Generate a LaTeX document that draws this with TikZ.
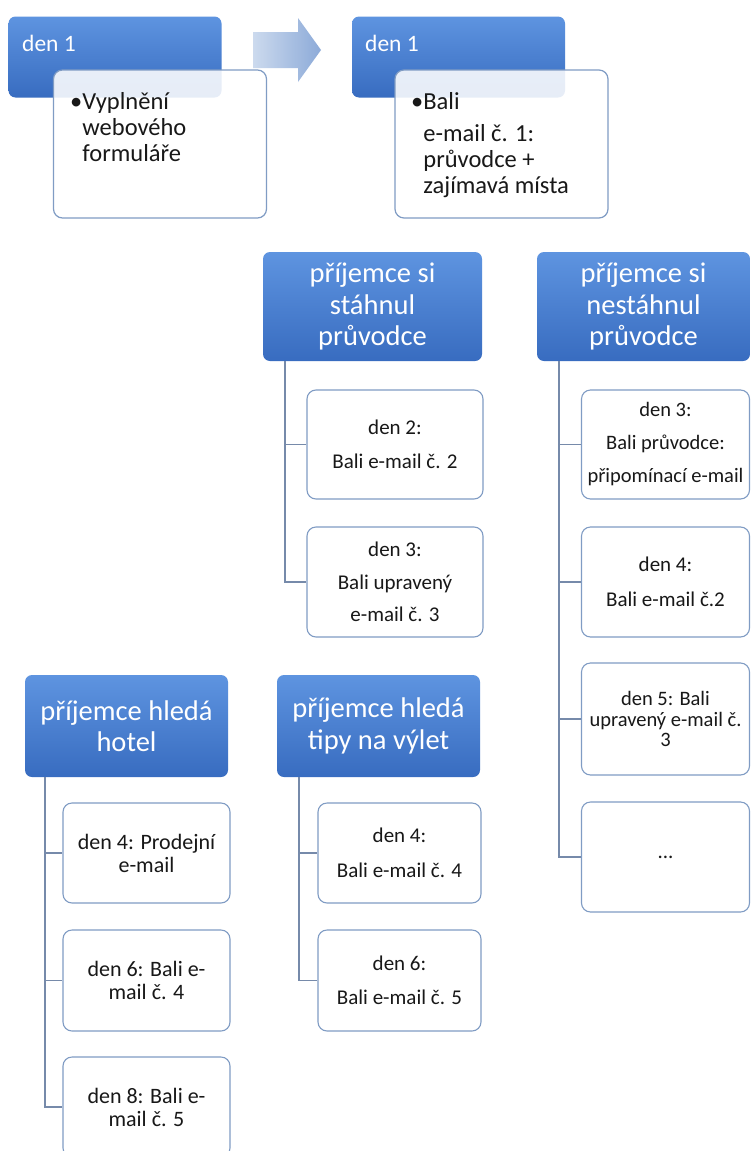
\documentclass[tikz,border=0pt]{standalone}
\usepackage{fontspec}
\setmainfont{Carlito}
\definecolor{hdrtop}{RGB}{94,148,224}
\definecolor{hdrbot}{RGB}{56,108,192}
\definecolor{boxline}{RGB}{128,156,196}
\definecolor{conn}{RGB}{118,138,170}
\definecolor{txt}{RGB}{24,24,24}
\definecolor{arrL}{RGB}{204,218,238}
\definecolor{arrR}{RGB}{140,170,216}
\begin{document}
\begin{tikzpicture}[x=1pt,y=-1pt,
  hdr/.style={rounded corners=7pt, top color=hdrtop, bottom color=hdrbot, draw=none,
    text=white, inner sep=0pt, align=center, font=\fontsize{28.5}{31.5}\selectfont},
  daybox/.style={rounded corners=7pt, top color=hdrtop, bottom color=hdrbot, draw=none,
    inner sep=0pt, minimum width=213pt, minimum height=81pt},
  daylbl/.style={text=white, inner sep=0pt, anchor=base west, font=\fontsize{23.5}{26}\selectfont},
  topbox/.style={rounded corners=9pt, draw=boxline, line width=1.2pt, fill=white, fill opacity=0.88,
    inner sep=0pt, minimum width=213pt, minimum height=148pt},
  toptxt/.style={text=txt, inner sep=0pt, anchor=base west, font=\fontsize{24.5}{26}\selectfont},
  kid/.style={rounded corners=9pt, draw=boxline, line width=1.1pt, fill=white, text=txt,
    inner sep=0pt, align=center},
  sp/.style={font=\fontsize{21}{34.5}\selectfont},
  tt/.style={font=\fontsize{22}{23}\selectfont},
  tt2/.style={font=\fontsize{20.5}{20.5}\selectfont},
  connline/.style={draw=conn, line width=1.6pt}
]
\useasboundingbox (0,0) rectangle (750,1151);
\clip (0,0) rectangle (750,1151);
\fill[white] (0,0) rectangle (750,1151);

% ---- top row ----
\node[daybox] (d1a) at (115,57) {};
\node[daylbl] (d1alab) at (22,51) {den 1};
\node[topbox] (w1) at (160,144) {};
\node[toptxt] (w1txt) at (70,109) {\begin{tabular}[t]{@{}l@{}l@{}}\textbullet&Vyplnění\\ &webového\\ &formuláře\end{tabular}};

\path[left color=arrL, right color=arrR] (253,32) -- (298,32) -- (298,18) -- (321,50) -- (298,82) -- (298,68) -- (253,68) -- cycle;

\node[daybox] (d1b) at (458.5,57) {};
\node[daylbl] (d1blab) at (365,51) {den 1};
\node[topbox] (w2) at (501.5,144) {};
\node[toptxt] (w2txt) at (411,109) {\begin{tabular}[t]{@{}l@{}l@{}}\textbullet&Bali\\[6pt] &e-mail č. 1:\\ &průvodce +\\ &zajímavá místa\end{tabular}};

% ---- group: stáhnul ----
\node[hdr, minimum width=219pt, minimum height=109pt] (h1) at (372.5,306.5) {příjemce si\\stáhnul\\průvodce};
\node[kid, sp, minimum width=176pt, minimum height=109pt] (c11) at (395,444.5) {den 2:\\Bali e-mail č. 2};
\node[kid, font=\fontsize{21}{32.5}\selectfont, minimum width=176pt, minimum height=110pt] (c12) at (395,582) {den 3:\\Bali upravený\\e-mail č. 3};
\draw[connline] ([xshift=22pt]h1.south west) |- (c12.west);
\draw[connline] ([xshift=22pt]h1.south west) |- (c11.west);

% ---- group: nestáhnul ----
\node[hdr, minimum width=213pt, minimum height=109pt] (h2) at (643.5,306.5) {příjemce si\\nestáhnul\\průvodce};
\node[kid, font=\fontsize{20.5}{33}\selectfont, minimum width=168pt, minimum height=109pt] (c21) at (665.5,444.5) {den 3:\\Bali průvodce:\\připomínací e-mail};
\node[kid, sp, minimum width=168pt, minimum height=110pt] (c22) at (665.5,582) {den 4:\\Bali e-mail č.2};
\node[kid, tt2, minimum width=168pt, minimum height=112pt] (c23) at (665.5,719) {den 5: Bali\\upravený e-mail č.\\3};
\node[kid, sp, minimum width=168pt, minimum height=110pt] (c24) at (665.5,857) {...};
\draw[connline] ([xshift=22pt]h2.south west) |- (c24.west);
\draw[connline] ([xshift=22pt]h2.south west) |- (c21.west);
\draw[connline] ([xshift=22pt]h2.south west) |- (c22.west);
\draw[connline] ([xshift=22pt]h2.south west) |- (c23.west);

% ---- group: hotel ----
\node[hdr, minimum width=203pt, minimum height=102pt] (h3) at (126.5,726) {příjemce hledá\\hotel};
\node[kid, tt, minimum width=167pt, minimum height=100pt] (c31) at (146.5,853) {den 4: Prodejní\\e-mail};
\node[kid, tt, minimum width=167pt, minimum height=101pt] (c32) at (146.5,980.5) {den 6: Bali e-\\mail č. 4};
\node[kid, tt, minimum width=167pt, minimum height=100pt] (c33) at (146.5,1107) {den 8: Bali e-\\mail č. 5};
\draw[connline] ([xshift=20pt]h3.south west) |- (c33.west);
\draw[connline] ([xshift=20pt]h3.south west) |- (c31.west);
\draw[connline] ([xshift=20pt]h3.south west) |- (c32.west);

% ---- group: výlet ----
\node[hdr, minimum width=203pt, minimum height=102pt] (h4) at (378.5,726) {příjemce hledá\\tipy na výlet};
\node[kid, sp, minimum width=163pt, minimum height=100pt] (c41) at (399.5,853) {den 4:\\Bali e-mail č. 4};
\node[kid, sp, minimum width=163pt, minimum height=101pt] (c42) at (399.5,980.5) {den 6:\\Bali e-mail č. 5};
\draw[connline] ([xshift=22pt]h4.south west) |- (c42.west);
\draw[connline] ([xshift=22pt]h4.south west) |- (c41.west);
\end{tikzpicture}
\end{document}
